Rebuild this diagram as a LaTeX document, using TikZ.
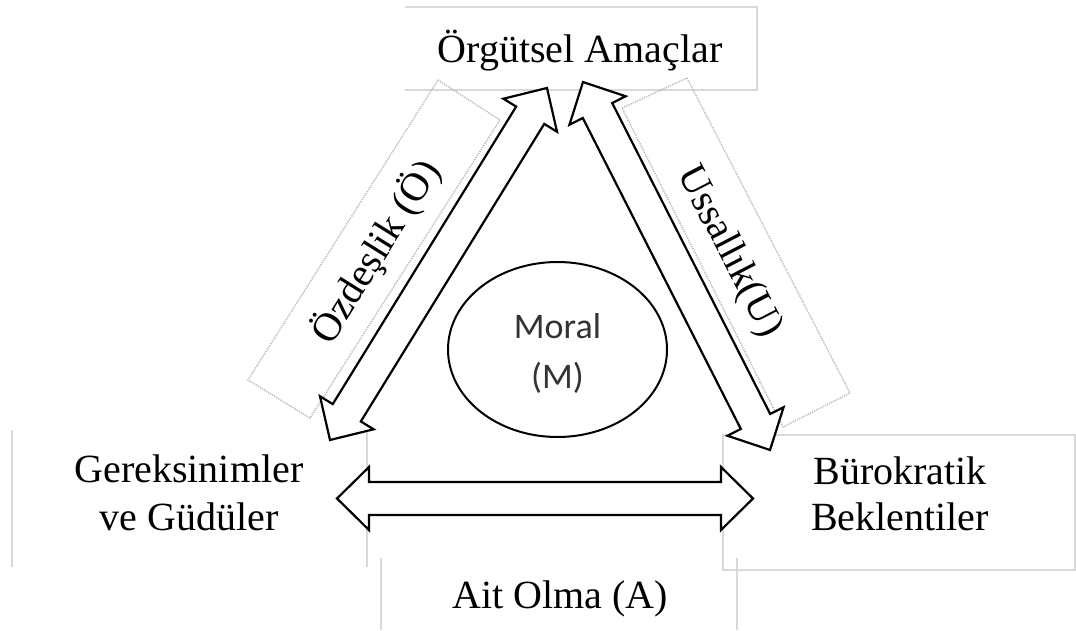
\documentclass[tikz,border=0pt]{standalone}
\usepackage{fontspec}
\setmainfont{Liberation Serif}
\newfontfamily\moralfont{Carlito}
\usetikzlibrary{calc,shapes.geometric}
\tikzset{
  frameline/.style={draw=black!15, line width=2pt},
  dotbox/.style={draw=black!28, line width=1.5pt, dash pattern=on 1.2pt off 1.2pt},
  blockarrow/.style={draw=black, fill=white, line width=2.2pt, line join=miter},
  txt/.style={font=\fontsize{40}{48}\selectfont, inner sep=0pt},
  moraltxt/.style={font=\moralfont\fontsize{36}{44}\selectfont, text=black!80, inner sep=0pt},
  moralring/.style={draw=black, line width=2pt, ellipse, minimum width=219pt, minimum height=175pt, inner sep=0pt}
}
\newcommand\dblblockarrow[2]{%
  \coordinate (ha) at ($(#1)!32pt!(#2)$);
  \coordinate (hb) at ($(#2)!32pt!(#1)$);
  \draw[blockarrow] (#1) -- ($(ha)!31.5pt!90:(#2)$) -- ($(ha)!16.5pt!90:(#2)$)
    -- ($(hb)!16.5pt!-90:(#1)$) -- ($(hb)!31.5pt!-90:(#1)$) -- (#2)
    -- ($(hb)!31.5pt!90:(#1)$) -- ($(hb)!16.5pt!90:(#1)$)
    -- ($(ha)!16.5pt!-90:(#2)$) -- ($(ha)!31.5pt!-90:(#2)$) -- cycle;}
\begin{document}
\begin{tikzpicture}[x=1pt,y=-1pt]
\useasboundingbox (0,0) rectangle (1076,630);
% light frames of the boxes
\draw[frameline] (405,7) -- (757,7) -- (757,90) -- (405,90);
\draw[frameline] (12,430) -- (12,567);
\draw[frameline] (367,430) -- (367,567);
\draw[frameline] (1076,435) -- (723,435) -- (723,570) -- (1076,570);
\draw[frameline] (1075,435) -- (1075,570);
\draw[frameline] (381,558) -- (381,630);
\draw[frameline] (737,558) -- (737,630);
% dotted label boxes
\draw[dotbox] (438,80) -- (500,120) -- (310,418) -- (248,380) -- cycle;
\draw[dotbox] (687,78) -- (850,393) -- (783,427) -- (622,108) -- cycle;
% ellipse
\node[moralring] (moral) at (557.5,349.5) {};
% arrow end points
\coordinate (gL) at (337,498.5);
\coordinate (bR) at (753,498.5);
\coordinate (gT) at (330,440);
\coordinate (oL) at (547,88);
\coordinate (oR) at (583,82);
\coordinate (bT) at (770,450);
\dblblockarrow{gL}{bR}
\dblblockarrow{gT}{oL}
\dblblockarrow{oR}{bT}
% texts
\node[txt, anchor=base] (org) at (580,62) {Örgütsel Amaçlar};
\node[txt, anchor=base] (ger1) at (189,482) {Gereksinimler};
\node[txt, anchor=base] (ger2) at (189,530) {ve Güdüler};
\node[txt, anchor=base] (bur1) at (900,484) {Bürokratik};
\node[txt, anchor=base] (bur2) at (900,530) {Beklentiler};
\node[txt, anchor=base] (ait) at (560,608) {Ait Olma (A)};
\node[moraltxt, anchor=base] (mor1) at (557.5,338) {Moral};
\node[moraltxt, anchor=base] (mor2) at (557.5,388) {(M)};
\node[txt, rotate=58] (ozd) at (376,252) {Özdeşlik (Ö)};
\node[txt, rotate=-62.6] (uss) at (729,252) {Ussallık(U)};
\end{tikzpicture}
\end{document}
